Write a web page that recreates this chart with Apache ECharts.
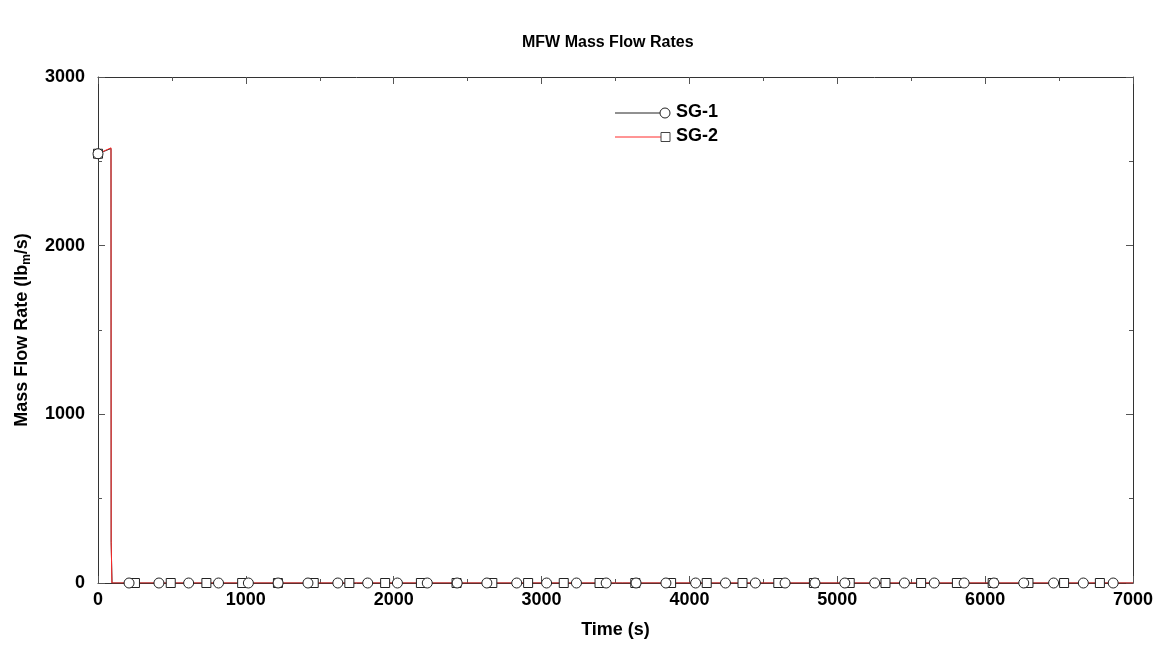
<!DOCTYPE html>
<html>
<head>
<meta charset="utf-8">
<title>MFW Mass Flow Rates</title>
<script src="https://cdn.jsdelivr.net/npm/echarts@6/dist/echarts.min.js"></script>
<style>
  html, body { margin: 0; padding: 0; background: #fff; }
  #chart { width: 1162px; height: 645px; }
</style>
</head>
<body>
<div id="chart"></div>
<script>
// Main feedwater mass flow, lbm/s, versus time, s
const sg1Time = [0, 88, 89, 95, 7000];
const sg1Flow = [2545, 2576, 240, 0, 0];
const sg2Time = [0, 88, 89, 94, 7000];
const sg2Flow = [2545, 2580, 250, 0, 0];

// Symbol positions along each curve
const sg1MarkTime = [0, 210, 412, 613, 815, 1017, 1218, 1420, 1622, 1824, 2025, 2227, 2429, 2630,
  2832, 3034, 3236, 3437, 3639, 3841, 4042, 4244, 4446, 4647, 4849, 5051, 5253, 5454, 5656,
  5858, 6059, 6261, 6463, 6664, 6866];
const sg1MarkFlow = [2545, 0, 0, 0, 0, 0, 0, 0, 0, 0, 0, 0, 0, 0, 0, 0, 0, 0, 0, 0, 0, 0, 0, 0,
  0, 0, 0, 0, 0, 0, 0, 0, 0, 0, 0];
const sg2MarkTime = [0, 250, 492, 733, 975, 1217, 1459, 1700, 1942, 2184, 2425, 2667, 2909, 3150,
  3392, 3634, 3876, 4117, 4359, 4601, 4842, 5084, 5326, 5567, 5809, 6051, 6293, 6534, 6776];
const sg2MarkFlow = [2545, 0, 0, 0, 0, 0, 0, 0, 0, 0, 0, 0, 0, 0, 0, 0, 0, 0, 0, 0, 0, 0, 0, 0,
  0, 0, 0, 0, 0];

const seriesNames = ['SG-1', 'SG-2'];
const xTicks = [0, 1000, 2000, 3000, 4000, 5000, 6000, 7000];
const yTicks = [0, 1000, 2000, 3000];

const pairs = (xs, ys) => xs.map((x, i) => [x, ys[i]]);

const FONT = '"Liberation Sans", Arial, sans-serif';
const frame = { show: true, onZero: false, lineStyle: { color: '#333', width: 1 } };

function axisBase(kind, ticks, position, labels) {
  return {
    type: 'value',
    position: position,
    min: ticks[0],
    max: ticks[ticks.length - 1],
    interval: ticks[1] - ticks[0],
    axisLine: frame,
    axisTick: { show: true, inside: true, length: 7, lineStyle: { color: '#555' } },
    minorTick: { show: true, splitNumber: 2, length: 4, lineStyle: { color: '#555' } },
    splitLine: { show: false },
    axisLabel: labels ? {
      show: true,
      color: '#000',
      fontFamily: FONT,
      fontWeight: 'bold',
      fontSize: 18,
      margin: kind === 'x' ? 8 : 13,
      formatter: v => String(v)
    } : { show: false }
  };
}

const chart = echarts.init(document.getElementById('chart'), null, { renderer: 'canvas' });

const xMain = axisBase('x', xTicks, 'bottom', true);
xMain.name = 'Time (s)';
xMain.nameLocation = 'middle';
xMain.nameGap = 38;
xMain.nameTextStyle = { color: '#000', fontFamily: FONT, fontWeight: 'bold', fontSize: 18 };

const yMain = axisBase('y', yTicks, 'left', true);
yMain.name = '{a|Mass Flow Rate (lb}{s|m}{a|/s)}';
yMain.nameLocation = 'middle';
yMain.nameGap = 65;
yMain.nameTextStyle = {
  color: '#000',
  rich: {
    a: { fontFamily: FONT, fontWeight: 'bold', fontSize: 18, color: '#000' },
    s: { fontFamily: FONT, fontWeight: 'bold', fontSize: 12, color: '#000', padding: [10, 0, 0, 0] }
  }
};

const legendX = 615, legendY1 = 113, legendY2 = 137;

chart.setOption({
  animation: false,
  backgroundColor: '#fff',
  title: {
    text: 'MFW Mass Flow Rates',
    left: 517,
    top: 30,
    textStyle: { color: '#000', fontFamily: FONT, fontWeight: 'bold', fontSize: 16 }
  },
  grid: { left: 98, right: 29, top: 77, bottom: 62 },
  xAxis: [xMain, axisBase('x', xTicks, 'top', false)],
  yAxis: [yMain, axisBase('y', yTicks, 'right', false)],
  series: [
    {
      name: seriesNames[0], type: 'line', xAxisIndex: 0, yAxisIndex: 0,
      data: pairs(sg1Time, sg1Flow), showSymbol: false, symbol: 'none',
      lineStyle: { color: '#222', width: 1 }, z: 2
    },
    {
      name: seriesNames[1], type: 'line', xAxisIndex: 0, yAxisIndex: 0,
      data: pairs(sg2Time, sg2Flow), showSymbol: false, symbol: 'none',
      lineStyle: { color: '#ff2a2a', width: 1 }, z: 3
    },
    {
      name: seriesNames[1] + ' symbols', type: 'scatter', xAxisIndex: 0, yAxisIndex: 0,
      data: pairs(sg2MarkTime, sg2MarkFlow), symbol: 'rect', symbolSize: 9,
      itemStyle: { color: '#fff', borderColor: '#222', borderWidth: 1, opacity: 1 },
      silent: true, z: 4
    },
    {
      name: seriesNames[0] + ' symbols', type: 'scatter', xAxisIndex: 0, yAxisIndex: 0,
      data: pairs(sg1MarkTime, sg1MarkFlow), symbol: 'circle', symbolSize: 10,
      itemStyle: { color: '#fff', borderColor: '#222', borderWidth: 1, opacity: 1 },
      silent: true, z: 5
    }
  ],
  graphic: [
    // legend: SG-1
    { type: 'line', shape: { x1: legendX, y1: legendY1, x2: legendX + 45, y2: legendY1 },
      style: { stroke: '#222', lineWidth: 1 }, z: 10 },
    { type: 'circle', shape: { cx: legendX + 50, cy: legendY1, r: 5 },
      style: { fill: '#fff', stroke: '#222', lineWidth: 1 }, z: 11 },
    { type: 'text', left: legendX + 61, top: legendY1 - 10,
      style: { text: seriesNames[0], fill: '#000', font: 'bold 18px ' + FONT }, z: 11 },
    // legend: SG-2
    { type: 'line', shape: { x1: legendX, y1: legendY2, x2: legendX + 46, y2: legendY2 },
      style: { stroke: '#ff2a2a', lineWidth: 1 }, z: 10 },
    { type: 'rect', shape: { x: legendX + 46, y: legendY2 - 4.5, width: 9, height: 9 },
      style: { fill: '#fff', stroke: '#444', lineWidth: 1 }, z: 11 },
    { type: 'text', left: legendX + 61, top: legendY2 - 10,
      style: { text: seriesNames[1], fill: '#000', font: 'bold 18px ' + FONT }, z: 11 }
  ]
});
</script>
</body>
</html>
